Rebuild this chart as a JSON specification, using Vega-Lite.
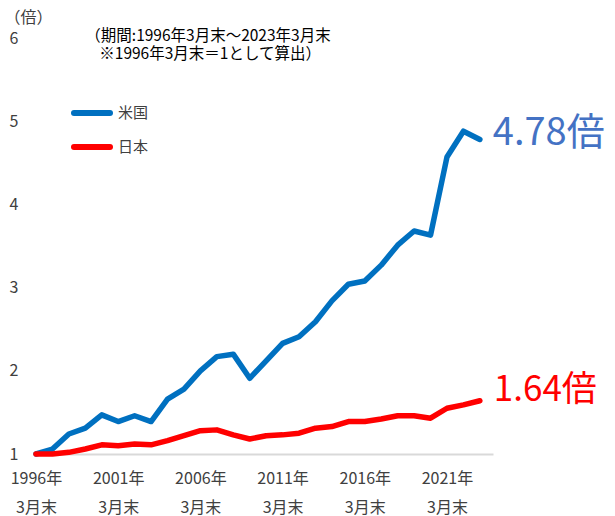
{
  "$schema": "https://vega.github.io/schema/vega-lite/v6.json",
  "autosize": {"type": "none"},
  "width": 457,
  "height": 416,
  "padding": {"left": 36, "top": 38, "right": 122, "bottom": 62},
  "background": "white",
  "config": {
    "view": {"stroke": null},
    "font": "Noto Sans CJK JP",
    "text": {"font": "Noto Sans CJK JP"}
  },
  "datasets": {
    "series": [
      {"year": 1996, "country": "米国", "value": 1.00},
      {"year": 1997, "country": "米国", "value": 1.06},
      {"year": 1998, "country": "米国", "value": 1.24},
      {"year": 1999, "country": "米国", "value": 1.31},
      {"year": 2000, "country": "米国", "value": 1.47},
      {"year": 2001, "country": "米国", "value": 1.39},
      {"year": 2002, "country": "米国", "value": 1.46},
      {"year": 2003, "country": "米国", "value": 1.39},
      {"year": 2004, "country": "米国", "value": 1.66},
      {"year": 2005, "country": "米国", "value": 1.78},
      {"year": 2006, "country": "米国", "value": 2.00},
      {"year": 2007, "country": "米国", "value": 2.17},
      {"year": 2008, "country": "米国", "value": 2.20},
      {"year": 2009, "country": "米国", "value": 1.91},
      {"year": 2010, "country": "米国", "value": 2.12},
      {"year": 2011, "country": "米国", "value": 2.33},
      {"year": 2012, "country": "米国", "value": 2.41},
      {"year": 2013, "country": "米国", "value": 2.59},
      {"year": 2014, "country": "米国", "value": 2.84},
      {"year": 2015, "country": "米国", "value": 3.04},
      {"year": 2016, "country": "米国", "value": 3.08},
      {"year": 2017, "country": "米国", "value": 3.27},
      {"year": 2018, "country": "米国", "value": 3.51},
      {"year": 2019, "country": "米国", "value": 3.68},
      {"year": 2020, "country": "米国", "value": 3.63},
      {"year": 2021, "country": "米国", "value": 4.57},
      {"year": 2022, "country": "米国", "value": 4.88},
      {"year": 2023, "country": "米国", "value": 4.78},
      {"year": 1996, "country": "日本", "value": 1.00},
      {"year": 1997, "country": "日本", "value": 1.00},
      {"year": 1998, "country": "日本", "value": 1.02},
      {"year": 1999, "country": "日本", "value": 1.06},
      {"year": 2000, "country": "日本", "value": 1.11},
      {"year": 2001, "country": "日本", "value": 1.10},
      {"year": 2002, "country": "日本", "value": 1.12},
      {"year": 2003, "country": "日本", "value": 1.11},
      {"year": 2004, "country": "日本", "value": 1.16},
      {"year": 2005, "country": "日本", "value": 1.22},
      {"year": 2006, "country": "日本", "value": 1.28},
      {"year": 2007, "country": "日本", "value": 1.29},
      {"year": 2008, "country": "日本", "value": 1.23},
      {"year": 2009, "country": "日本", "value": 1.18},
      {"year": 2010, "country": "日本", "value": 1.22},
      {"year": 2011, "country": "日本", "value": 1.23},
      {"year": 2012, "country": "日本", "value": 1.25},
      {"year": 2013, "country": "日本", "value": 1.31},
      {"year": 2014, "country": "日本", "value": 1.33},
      {"year": 2015, "country": "日本", "value": 1.39},
      {"year": 2016, "country": "日本", "value": 1.39},
      {"year": 2017, "country": "日本", "value": 1.42},
      {"year": 2018, "country": "日本", "value": 1.46},
      {"year": 2019, "country": "日本", "value": 1.46},
      {"year": 2020, "country": "日本", "value": 1.43},
      {"year": 2021, "country": "日本", "value": 1.55},
      {"year": 2022, "country": "日本", "value": 1.59},
      {"year": 2023, "country": "日本", "value": 1.64}
    ]
  },
  "encoding": {
    "x": {
      "field": "year",
      "type": "quantitative",
      "scale": {"domain": [1996, 2023.8], "nice": false, "zero": false},
      "axis": {
        "title": null,
        "values": [1996, 2001, 2006, 2011, 2016, 2021],
        "labelExpr": "[datum.value + '年', '3月末']",
        "grid": false,
        "ticks": false,
        "domain": true,
        "domainColor": "#d9d9d9",
        "domainWidth": 2,
        "labelFlush": false,
        "labelOverlap": false,
        "labelFontSize": 16,
        "labelColor": "#404040",
        "labelPadding": 16,
        "labelLineHeight": 29
      }
    },
    "y": {
      "field": "value",
      "type": "quantitative",
      "scale": {"domain": [1, 6], "nice": false, "zero": false},
      "axis": {
        "title": "（倍）",
        "titleAngle": 0,
        "titleAlign": "left",
        "titleBaseline": "middle",
        "titleX": -32,
        "titleY": -21,
        "titleFontSize": 16,
        "titleFontWeight": "normal",
        "titleColor": "#404040",
        "values": [1, 2, 3, 4, 5, 6],
        "grid": false,
        "ticks": false,
        "domain": false,
        "labelFlush": false,
        "labelFontSize": 16,
        "labelColor": "#404040",
        "labelPadding": 18
      }
    }
  },
  "layer": [
    {
      "data": {"name": "series"},
      "mark": {"type": "line", "strokeWidth": 5.5, "strokeCap": "round", "strokeJoin": "round"},
      "encoding": {
        "color": {
          "field": "country",
          "type": "nominal",
          "scale": {"domain": ["米国", "日本"], "range": ["#0070C0", "#FF0000"]},
          "legend": {
            "title": null,
            "orient": "none",
            "legendX": 44,
            "legendY": 63,
            "padding": 0,
            "symbolType": "M-2,0H2",
            "symbolSize": 324,
            "symbolStrokeWidth": 6,
            "labelOffset": 14,
            "rowPadding": 10,
            "labelFontSize": 15,
            "labelColor": "#404040",
            "encode": {"symbols": {"update": {"strokeCap": {"value": "round"}}}}
          }
        }
      }
    },
    {
      "data": {"values": [{"year": 2023, "value": 4.78, "label": "4.78倍"}]},
      "mark": {"type": "text", "align": "left", "baseline": "middle", "dx": 13, "dy": -6, "fontSize": 38, "color": "#4472C4"},
      "encoding": {"text": {"field": "label"}}
    },
    {
      "data": {"values": [{"year": 2023, "value": 1.64, "label": "1.64倍"}]},
      "mark": {"type": "text", "align": "left", "baseline": "middle", "dx": 14, "dy": -11, "fontSize": 35, "color": "#FF0000"},
      "encoding": {"text": {"field": "label"}}
    },
    {
      "data": {"values": [{"year": 1999, "value": 6.024, "note": "（期間:1996年3月末～2023年3月末"}]},
      "mark": {"type": "text", "align": "left", "baseline": "middle", "fontSize": 15.5, "color": "#000000"},
      "encoding": {"text": {"field": "note"}}
    },
    {
      "data": {"values": [{"year": 1999, "value": 5.808, "note": "※1996年3月末＝1として算出）"}]},
      "mark": {"type": "text", "align": "left", "baseline": "middle", "dx": 14, "fontSize": 15.5, "color": "#000000"},
      "encoding": {"text": {"field": "note"}}
    }
  ]
}
